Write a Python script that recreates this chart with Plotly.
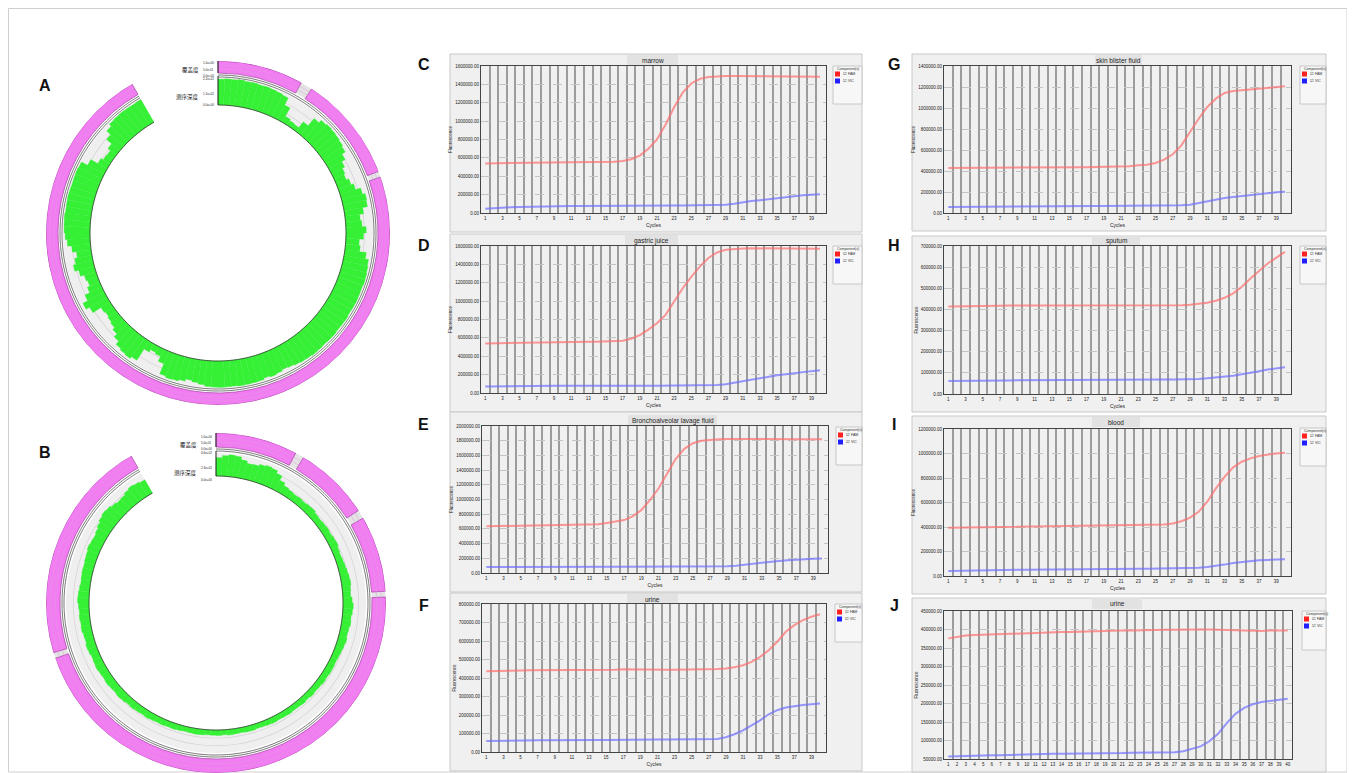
import numpy as np
import plotly.graph_objects as go

# page body has an 8px margin: the figure is drawn from (8, 8) of the window
OFF = 8
W, H = 1355 - OFF, 773 - OFF

# ---------------- data ----------------
cycles = list(range(1, 41))

# qPCR fluorescence (thousands), FAM (red) and VIC (blue)
marrow_fam = [540,541,542,543,544,545,546,547,548,549,550,551,552,553,555,558,565,585,625,700,
              800,960,1150,1310,1410,1460,1480,1488,1490,1490,1490,1490,1490,1489,1488,1487,1486,1485,1484,1483]
marrow_vic = [45,52,58,62,65,68,70,72,74,75,76,77,78,78,79,79,80,80,80,80,
              80,80,81,81,82,82,83,86,91,100,118,130,140,152,164,175,186,193,200,205]
gastric_fam = [540,542,544,546,548,550,551,552,553,554,555,556,557,558,560,563,570,590,630,690,
               760,850,1000,1140,1265,1375,1470,1530,1560,1570,1573,1575,1575,1575,1575,1574,1573,1572,1571,1570]
gastric_vic = [70,72,74,75,76,77,77,78,78,78,79,79,79,79,80,80,80,80,80,80,
               80,80,80,80,80,81,82,86,95,112,131,150,167,180,193,205,218,228,238,247]
balf_fam = [636,638,640,641,642,643,644,645,646,648,650,652,656,662,680,698,720,770,855,990,
            1150,1350,1550,1690,1765,1800,1815,1820,1822,1823,1823,1823,1823,1823,1822,1822,1821,1821,1820,1820]
balf_vic = [80,81,82,82,83,83,83,84,84,84,84,84,84,85,85,85,85,85,85,85,
            85,85,86,86,86,86,87,88,91,100,114,128,141,153,164,173,182,189,195,198]
urine1_fam = [437,439,440,441,441,442,442,442,443,443,443,443,444,444,444,445,447,446,445,444,
              444,444,445,445,446,447,448,449,452,458,469,487,514,550,596,650,686,713,731,745]
urine1_vic = [60,61,61,62,62,63,63,63,64,64,64,65,65,65,65,66,66,66,67,67,
              67,67,68,68,68,69,69,70,80,96,117,144,171,204,226,240,249,254,258,262]
skin_fam = [429,429,430,430,430,431,431,431,432,432,432,433,433,434,434,435,436,437,438,440,
            441,446,454,460,476,508,559,644,771,898,1010,1089,1143,1162,1168,1175,1184,1194,1200,1206]
skin_vic = [57,58,59,60,61,62,62,63,63,64,64,65,65,65,66,66,66,67,67,67,
            68,68,68,69,69,70,70,73,79,95,114,130,143,152,162,171,178,187,197,203]
sputum_fam = [414,414,414,415,415,416,417,418,418,418,418,418,418,418,418,418,418,418,418,418,
              418,418,419,419,419,420,420,420,422,426,432,441,455,476,507,546,582,617,645,672]
sputum_vic = [61,61,62,62,63,63,64,64,65,65,65,66,66,66,66,67,67,67,67,67,
              67,68,68,68,68,68,69,69,70,71,74,77,80,86,93,99,108,116,121,126]
blood_fam = [393,394,396,398,399,400,401,402,403,403,404,404,405,405,406,406,407,407,408,409,
             410,411,412,413,415,420,428,447,477,524,606,715,810,887,933,960,980,993,1001,1007]
blood_vic = [41,43,45,47,48,49,50,51,52,52,53,53,54,54,55,55,56,56,57,57,
             58,58,59,59,60,61,62,63,65,68,74,82,93,106,115,123,128,131,134,136]
urine2_fam = [376,381,384,385,386,387,388,389,390,390,391,392,392,393,393,394,394,395,396,396,
              397,397,398,398,398,399,399,400,400,400,400,399,398,397,396,396,396,397,397,397]
urine2_vic = [57,58,58,59,59,60,60,61,62,63,63,63,64,64,64,65,65,65,66,66,
              66,67,67,67,68,68,68,71,77,84,98,118,147,172,188,198,204,207,210,213]

panel_titles = ["marrow", "gastric juice", "Bronchoalveolar lavage fluid", "urine",
                "skin blister fluid", "sputum", "blood", "urine"]
panel_letters = ["C", "D", "E", "F", "G", "H", "I", "J"]
y_ticks = [
    [0, 200000, 400000, 600000, 800000, 1000000, 1200000, 1400000, 1600000],
    [0, 200000, 400000, 600000, 800000, 1000000, 1200000, 1400000, 1600000],
    [0, 200000, 400000, 600000, 800000, 1000000, 1200000, 1400000, 1600000, 1800000, 2000000],
    [0, 100000, 200000, 300000, 400000, 500000, 600000, 700000, 800000],
    [0, 200000, 400000, 600000, 800000, 1000000, 1200000, 1400000],
    [0, 100000, 200000, 300000, 400000, 500000, 600000, 700000],
    [0, 200000, 400000, 600000, 800000, 1000000, 1200000],
    [50000, 100000, 150000, 200000, 250000, 300000, 350000, 400000, 450000],
]
x_ticks_odd = [1,3,5,7,9,11,13,15,17,19,21,23,25,27,29,31,33,35,37,39]
x_ticks_all = cycles
fam_series = [marrow_fam, gastric_fam, balf_fam, urine1_fam, skin_fam, sputum_fam, blood_fam, urine2_fam]
vic_series = [marrow_vic, gastric_vic, balf_vic, urine1_vic, skin_vic, sputum_vic, blood_vic, urine2_vic]
legend_labels = ["Component(s)", "\u2611 FAM", "\u2611 VIC"]

# circular maps: sequencing depth in 2.5-degree bins clockwise from top (fraction of track)
depth_A = [0.96,0.98,0.97,0.99,0.97,0.98,0.96,0.97,0.95,0.93,0.90,0.60,
           0.25,0.20,0.18,0.45,0.80,0.92,0.96,0.95,0.93,0.90,0.85,0.70,
           0.55,0.45,0.40,0.50,0.60,0.80,0.90,0.88,0.70,0.55,0.60,0.75,
           0.65,0.50,0.55,0.80,0.92,0.95,0.97,0.98,0.96,0.97,0.98,0.97,
           0.96,0.98,0.97,0.96,0.98,0.97,0.96,0.97,0.98,0.96,0.95,0.92,
           0.88,0.85,0.90,0.93,0.90,0.95,0.96,0.97,0.98,0.96,0.97,0.98,
           0.97,0.96,0.90,0.85,0.80,0.88,0.93,0.95,0.90,0.50,0.30,0.25,
           0.35,0.85,0.93,0.90,0.85,0.70,0.55,0.45,0.40,0.35,0.40,0.75,
           0.90,0.70,0.50,0.40,0.45,0.60,0.75,0.65,0.55,0.70,0.85,0.92,
           0.96,0.97,0.98,0.96,0.97,0.98,0.97,0.96,0.97,0.98,0.96,0.70,
           0.40,0.30,0.28,0.40,0.65,0.85,0.95,0.97,0.98,0.97,0.96,0.97]
depth_B = [0.80,0.90,0.95,0.92,0.80,0.70,0.72,0.80,0.85,0.82,0.70,0.50,
           0.38,0.33,0.30,0.32,0.30,0.33,0.35,0.30,0.28,0.30,0.32,0.30,
           0.33,0.35,0.30,0.28,0.30,0.32,0.35,0.38,0.40,0.36,0.34,0.40,
           0.45,0.42,0.38,0.40,0.36,0.34,0.38,0.35,0.32,0.30,0.28,0.30,
           0.30,0.28,0.30,0.27,0.26,0.28,0.25,0.27,0.25,0.24,0.26,0.25,
           0.24,0.26,0.25,0.23,0.22,0.25,0.24,0.22,0.23,0.25,0.22,0.24,
           0.23,0.22,0.24,0.25,0.23,0.22,0.24,0.26,0.25,0.27,0.26,0.28,
           0.30,0.28,0.30,0.32,0.30,0.34,0.36,0.33,0.35,0.38,0.35,0.37,
           0.40,0.38,0.36,0.40,0.42,0.38,0.40,0.44,0.42,0.45,0.43,0.46,
           0.50,0.48,0.45,0.42,0.44,0.46,0.45,0.48,0.50,0.55,0.52,0.50,
           0.55,0.62,0.70,0.75,0.72,0.65,0.60,0.62,0.70,0.75,0.72,0.66]
coverage_A = [(0, 29), (33, 69), (71, 330)]
coverage_B = [(0, 28), (31, 57), (60, 86), (88, 251), (253, 330)]
axis_labels_A = ["1.0e+00", "5.0e-01", "0.0e+00", "2.2e+02", "1.1e+02", "0.0e+00"]
axis_labels_B = ["1.0e+00", "5.0e-01", "0.0e+00", "4.6e+02", "2.3e+02", "0.0e+00"]
ring_titles = ["覆盖度", "测序深度"]

# ---------------- layout geometry (window pixels) ----------------
plot_boxes = [(481, 66, 826, 213), (481, 246, 826, 393), (482, 426, 828, 573), (482, 604, 826, 752),
              (944, 66, 1291, 213), (944, 246, 1291, 394), (944, 429, 1291, 576), (944, 611, 1292, 759)]
cont_boxes = [(450, 54, 862, 232), (450, 234, 862, 412), (450, 412, 862, 592), (450, 593, 862, 771),
              (912, 54, 1326, 231), (912, 236, 1326, 412), (912, 416, 1326, 594), (912, 598, 1326, 772)]
tab_boxes = [(627, 55, 678, 66), (625, 235, 678, 246), (628, 415, 717, 426), (627, 594, 678, 604),
             (1095, 55, 1142, 66), (1092, 236, 1140, 246), (1092, 417, 1140, 427), (1092, 598, 1142, 609)]
legend_boxes = [(833, 66, 862, 104), (833, 246, 862, 284), (836, 427, 862, 465), (835, 604, 862, 642),
                (1300, 66, 1326, 104), (1300, 246, 1326, 284), (1300, 428, 1326, 466), (1302, 611, 1326, 650)]
letter_pos = [(424, 65), (424, 245), (424, 425), (424, 605), (894, 65), (894, 245), (894, 425), (894, 605)]

def fx(x): return (x - OFF) / W
def fy(y): return 1 - (y - OFF) / H

FONT = "Liberation Sans, Arial, sans-serif"
fig = go.Figure()
shapes, annos = [], []
layout = {}

shapes.append(dict(type="rect", xref="paper", yref="paper", x0=fx(8.5), x1=fx(1347), y0=fy(772), y1=fy(8.5),
                   line=dict(color="#cfcfcf", width=1), fillcolor="rgba(0,0,0,0)", layer="below"))

for i in range(8):
    n = i + 1
    xn = "x" if n == 1 else f"x{n}"
    yn = "y" if n == 1 else f"y{n}"
    l, t, r, b = plot_boxes[i]
    cl, ct, cr, cb = cont_boxes[i]
    shapes.append(dict(type="rect", xref="paper", yref="paper", x0=fx(cl), x1=fx(cr), y0=fy(cb), y1=fy(ct),
                       line=dict(color="#c8c8c8", width=1), fillcolor="#f0f0f0", layer="below"))
    tl, tt, tr, tb = tab_boxes[i]
    shapes.append(dict(type="rect", xref="paper", yref="paper", x0=fx(tl), x1=fx(tr), y0=fy(tb), y1=fy(tt),
                       line=dict(width=0), fillcolor="#e2e2e2", layer="below"))
    annos.append(dict(text=panel_titles[i], x=fx((tl + tr) / 2), y=fy((tt + tb) / 2), xref="paper", yref="paper",
                      showarrow=False, font=dict(size=6.5, family=FONT, color="#222"), xanchor="center", yanchor="middle"))
    gl, gt, gr, gb = legend_boxes[i]
    shapes.append(dict(type="rect", xref="paper", yref="paper", x0=fx(gl), x1=fx(gr), y0=fy(gb), y1=fy(gt),
                       line=dict(color="#bdbdbd", width=0.8), fillcolor="#f7f7f7", layer="below"))
    annos.append(dict(text=legend_labels[0], x=fx(gl + 2), y=fy(gt + 3), xref="paper", yref="paper", showarrow=False,
                      font=dict(size=3.5, family=FONT, color="#333"), xanchor="left", yanchor="middle"))
    for k, col in enumerate(["#ff2020", "#2020ff"]):
        yy = gt + 8 + k * 7
        shapes.append(dict(type="rect", xref="paper", yref="paper", x0=fx(gl + 2), x1=fx(gl + 7), y0=fy(yy + 2.5),
                           y1=fy(yy - 2.5), line=dict(width=0), fillcolor=col))
        annos.append(dict(text=legend_labels[k + 1], x=fx(gl + 8), y=fy(yy), xref="paper", yref="paper", showarrow=False,
                          font=dict(size=3.5, family=FONT, color="#333"), xanchor="left", yanchor="middle"))
    lx, ly = letter_pos[i]
    annos.append(dict(text=f"<b>{panel_letters[i]}</b>", x=fx(lx), y=fy(ly), xref="paper", yref="paper", showarrow=False,
                      font=dict(size=16, family=FONT, color="#111"), xanchor="center", yanchor="middle"))

    is_j = (i == 7)
    xr = [0.5, 40.5] if is_j else [0.5, 40.7]
    xt = x_ticks_all if is_j else x_ticks_odd
    minor_vals = [k + 0.5 for k in range(1, 40)]
    yt = y_ticks[i]
    layout["xaxis" if n == 1 else f"xaxis{n}"] = dict(
        domain=[fx(l), fx(r)], anchor=yn, range=xr, tickmode="array", tickvals=xt,
        tickfont=dict(size=4.5, family=FONT, color="#222"), ticks="", showgrid=False, zeroline=False,
        minor=dict(tickmode="array", tickvals=minor_vals, showgrid=True, gridcolor="#9c9c9c", gridwidth=1.7, ticks=""),
        showline=True, linecolor="#444", linewidth=1.2, mirror=True, automargin=False,
        title=dict(text="" if is_j else "Cycles", font=dict(size=5, family=FONT, color="#222"), standoff=3))
    layout["yaxis" if n == 1 else f"yaxis{n}"] = dict(
        domain=[fy(b), fy(t)], anchor=xn, range=[yt[0], yt[-1]], tickmode="array", tickvals=yt, tickformat=".2f",
        tickfont=dict(size=4.5, family=FONT, color="#222"), ticks="", showgrid=True, gridcolor="#c4c4c4",
        griddash="dash", gridwidth=0.8, zeroline=False,
        showline=True, linecolor="#444", linewidth=1.2, mirror=True, automargin=False,
        title=dict(text="Fluorescence", font=dict(size=4.5, family=FONT, color="#222"), standoff=2))
    fam = np.array(fam_series[i]) * 1000
    vic = np.array(vic_series[i]) * 1000
    fig.add_trace(go.Scatter(x=cycles, y=fam, xaxis=xn, yaxis=yn, mode="lines",
                             line=dict(color="rgba(255,110,110,0.7)", width=2), showlegend=False, hoverinfo="skip"))
    fig.add_trace(go.Scatter(x=cycles, y=vic, xaxis=xn, yaxis=yn, mode="lines",
                             line=dict(color="rgba(110,110,255,0.7)", width=2), showlegend=False, hoverinfo="skip"))

# ---------------- circular maps ----------------
ARC = 330
BIN = 2.5

def add_ring(sub, cx, cy, R, rad, depth, coverage, labels, letter, lpos, tick_y, title_y):
    pin, pout, l1, l2, tin, tout = rad
    layout[sub] = dict(
        domain=dict(x=[fx(cx - R), fx(cx + R)], y=[max(0, fy(cy + R)), min(1, fy(cy - R))]),
        bgcolor="rgba(0,0,0,0)", hole=0,
        radialaxis=dict(range=[0, R], visible=False, showgrid=False, showline=False),
        angularaxis=dict(visible=False, rotation=90, direction="clockwise", showgrid=False, showline=False))
    common = dict(subplot=sub, showlegend=False, hoverinfo="skip")
    fig.add_trace(go.Barpolar(r=[pout - pin], base=[pin], theta=[ARC / 2], width=[ARC],
                              marker=dict(color="#e4e4e4", line=dict(width=0)), **common))
    fig.add_trace(go.Barpolar(r=[pout - pin] * len(coverage), base=[pin] * len(coverage),
                              theta=[(a + b) / 2 for a, b in coverage], width=[b - a for a, b in coverage],
                              marker=dict(color="#f27df2", line=dict(color="#a040a0", width=0.7)), **common))
    fig.add_trace(go.Barpolar(r=[tout - tin], base=[tin], theta=[ARC / 2], width=[ARC],
                              marker=dict(color="#efefef", line=dict(width=0)), **common))
    # faint grid rings inside the depth track (below the green)
    for frac in (1 / 3, 2 / 3):
        fig.add_trace(go.Barpolar(r=[0.7], base=[tin + frac * (tout - tin)], theta=[ARC / 2], width=[ARC],
                                  marker=dict(color="#d2d2d2", line=dict(width=0)), **common))
    nb = len(depth)
    fig.add_trace(go.Barpolar(r=[d * (tout - tin) for d in depth], base=[tin] * nb,
                              theta=[BIN * k + BIN / 2 for k in range(nb)], width=[BIN] * nb,
                              marker=dict(color="#35f035", line=dict(color="#35f035", width=0.3)), **common))
    th = np.linspace(0, ARC, 400)
    for rr, col, wd in [(l1, "#555", 0.8), (l2, "#555", 0.8), (tin, "#333", 0.8),
                        (pin + (pout - pin) / 3, "#e09be0", 0.5), (pin + 2 * (pout - pin) / 3, "#e09be0", 0.5)]:
        fig.add_trace(go.Scatterpolar(r=[rr] * len(th), theta=th, mode="lines",
                                      line=dict(color=col, width=wd), **common))
    fig.add_trace(go.Scatterpolar(r=[tin, tout + 2], theta=[0, 0], mode="lines",
                                  line=dict(color="#222", width=1), **common))
    fig.add_trace(go.Scatterpolar(r=[pin, pout], theta=[0, 0], mode="lines",
                                  line=dict(color="#222", width=1), **common))
    for txt, yy in zip(labels, tick_y):
        annos.append(dict(text=txt, x=fx(cx - 2), y=fy(yy), xref="paper", yref="paper", showarrow=False,
                          font=dict(size=3, family=FONT, color="#222"), xanchor="right", yanchor="middle"))
    for txt, yy in zip(ring_titles, title_y):
        annos.append(dict(text=txt, x=fx(cx - 17), y=fy(yy), xref="paper", yref="paper", showarrow=False,
                          font=dict(size=5.5, family="Noto Sans CJK SC", color="#111"), xanchor="right", yanchor="middle"))
    annos.append(dict(text=f"<b>{letter}</b>", x=fx(lpos[0]), y=fy(lpos[1]), xref="paper", yref="paper",
                      showarrow=False, font=dict(size=16, family=FONT, color="#111"),
                      xanchor="center", yanchor="middle"))

add_ring("polar", 218, 233, 172, (160, 172, 158, 156, 128, 155), depth_A, coverage_A, axis_labels_A, "A", (45, 86),
         [63, 70, 76, 79, 94, 105], [70, 97])
add_ring("polar2", 216, 603, 170, (156, 170, 154, 152, 127, 150), depth_B, coverage_B, axis_labels_B, "B", (45, 452),
         [437, 443, 449, 453, 468, 480], [445, 473])

layout.update(dict(width=W, height=H, margin=dict(l=0, r=0, t=0, b=0), paper_bgcolor="white",
                   plot_bgcolor="white", showlegend=False, shapes=shapes, annotations=annos,
                   font=dict(family=FONT)))
fig.update_layout(**layout)
fig.write_html("out.html")
